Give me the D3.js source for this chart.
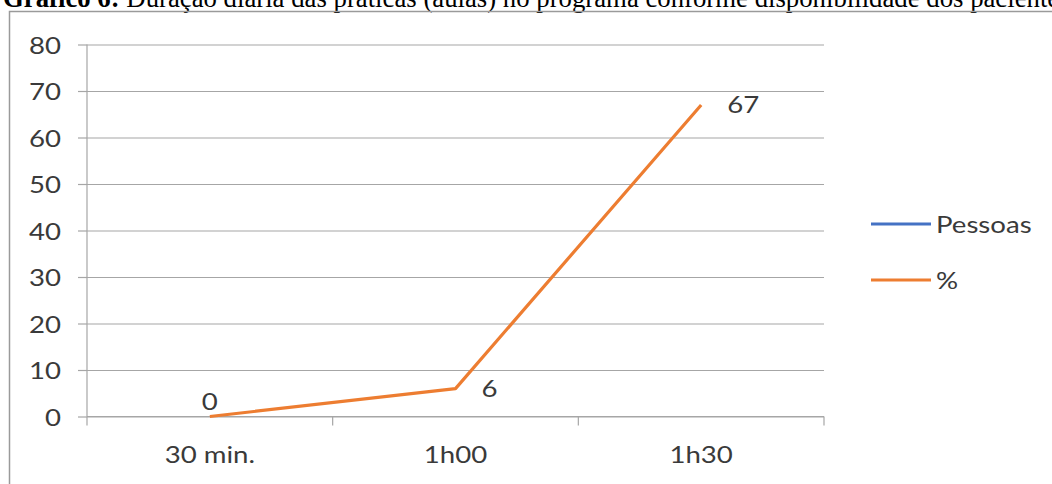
<!DOCTYPE html>
<html>
<head>
<meta charset="utf-8">
<script src="https://cdn.jsdelivr.net/npm/d3@7"></script>
<style>
  html, body { margin: 0; padding: 0; background: #fff; }
  svg { display: block; }
</style>
</head>
<body>
<svg id="chart" width="1052" height="484"></svg>
<script>
// Daily duration of the sessions
const categories = ["30 min.", "1h00", "1h30"];
const pessoasValues = [null, null, null];
const percentValues = [0, 6, 67];
const yTicks = [0, 10, 20, 30, 40, 50, 60, 70, 80];
const seriesNames = ["Pessoas", "%"];

const svg = d3.select("#chart");
const W = 1052, H = 484;
const margin = { left: 87, right: 228, top: 44.5, bottom: 67.5 };
const labelFont = "Lato, 'Open Sans', sans-serif";
const labelSize = 24;
const SX = 1.15; // horizontal widening of the chart labels
const textColor = "#3a3a3a";
const gridColor = "#a6a6a6";
const colors = { "Pessoas": "#4472C4", "%": "#ED7D31" };

// Place a label at (px, py) with the widened glyphs
function placeLabel(sel, px, py) {
  return sel.attr("x", 0).attr("y", 0)
    .attr("transform", (d, i, n) => {
      const tx = typeof px === "function" ? px(d, i, n) : px;
      const ty = typeof py === "function" ? py(d, i, n) : py;
      return `translate(${tx},${ty}) scale(${SX},1)`;
    })
    .attr("font-family", labelFont)
    .attr("font-size", labelSize)
    .attr("fill", textColor);
}

// Caption above the chart frame
const title = svg.append("text")
  .attr("x", 3).attr("y", 6.5)
  .attr("font-family", "'Liberation Serif', 'Times New Roman', serif")
  .attr("font-size", 26.75)
  .attr("fill", "#000");
title.append("tspan").attr("font-weight", "bold").text("Gráfico 6:");
title.append("tspan").text(" Duração diária das práticas (aulas) no programa conforme disponibilidade dos pacientes");

// Chart frame
svg.append("path")
  .attr("d", `M9.5,${H + 2} V11.5 H${W + 2}`)
  .attr("fill", "none")
  .attr("stroke", "#9a9a9a")
  .attr("stroke-width", 1.5);

const x = d3.scaleBand()
  .domain(categories)
  .range([margin.left, W - margin.right])
  .paddingInner(0).paddingOuter(0);

const y = d3.scaleLinear()
  .domain([0, 80])
  .range([H - margin.bottom, margin.top]);

// Horizontal gridlines with small ticks left of the axis
const yAxis = d3.axisLeft(y)
  .tickValues(yTicks)
  .tickSize(-(W - margin.right - margin.left))
  .tickSizeOuter(0);
const gy = svg.append("g")
  .attr("transform", `translate(${margin.left},0)`)
  .call(yAxis);
gy.select(".domain").remove();
gy.selectAll(".tick line").attr("stroke", gridColor).attr("stroke-width", 1.2);
gy.selectAll(".tick").append("line")
  .attr("x1", -9).attr("x2", 0)
  .attr("stroke", gridColor).attr("stroke-width", 1.2);
placeLabel(gy.selectAll(".tick text"), -26, 0)
  .attr("text-anchor", "end")
  .attr("dy", "0.36em");
svg.append("line")
  .attr("x1", margin.left).attr("x2", margin.left)
  .attr("y1", y(80)).attr("y2", y(0))
  .attr("stroke", gridColor).attr("stroke-width", 1.2);

// Category axis: ticks on band boundaries, labels centred in each band
const gx = svg.append("g")
  .attr("transform", `translate(0,${y(0)})`);
gx.append("line")
  .attr("x1", margin.left).attr("x2", W - margin.right)
  .attr("stroke", gridColor).attr("stroke-width", 1.2);
const boundaries = categories.map(c => x(c)).concat([x(categories[categories.length - 1]) + x.bandwidth()]);
gx.selectAll("line.tk").data(boundaries).join("line")
  .attr("class", "tk")
  .attr("x1", d => d).attr("x2", d => d)
  .attr("y1", 0).attr("y2", 9)
  .attr("stroke", gridColor).attr("stroke-width", 1.2);
placeLabel(gx.selectAll("text").data(categories).join("text"),
    d => x(d) + x.bandwidth() / 2, 46.5)
  .attr("text-anchor", "middle")
  .text(d => d);

const cx = c => x(c) + x.bandwidth() / 2;

const line = d3.line()
  .defined(d => d.v != null)
  .x(d => cx(d.c))
  .y(d => y(d.v));

const series = [
  { name: "Pessoas", values: pessoasValues },
  { name: "%", values: percentValues }
];

series.forEach(s => {
  const pts = categories.map((c, i) => ({ c, v: s.values[i] }));
  svg.append("path")
    .datum(pts)
    .attr("fill", "none")
    .attr("stroke", colors[s.name])
    .attr("stroke-width", 3.2)
    .attr("stroke-linejoin", "round")
    .attr("d", line);
});

// Value labels for the % series: above the point at zero, right of it otherwise
const pctPts = categories.map((c, i) => ({ c, v: percentValues[i] }));
placeLabel(svg.selectAll("text.val").data(pctPts).join("text").attr("class", "val"),
    d => d.v === 0 ? cx(d.c) : cx(d.c) + 26,
    d => d.v === 0 ? y(d.v) - 7 : y(d.v) + 8.5)
  .attr("text-anchor", d => d.v === 0 ? "middle" : "start")
  .text(d => d.v);

// Legend
const lg = svg.append("g");
seriesNames.forEach((n, i) => {
  const ly = 224 + i * 56;
  lg.append("line")
    .attr("x1", 871).attr("x2", 931)
    .attr("y1", ly).attr("y2", ly)
    .attr("stroke", colors[n]).attr("stroke-width", 3);
  placeLabel(lg.append("text"), 936, ly + 8.5).text(n);
});
</script>
</body>
</html>
